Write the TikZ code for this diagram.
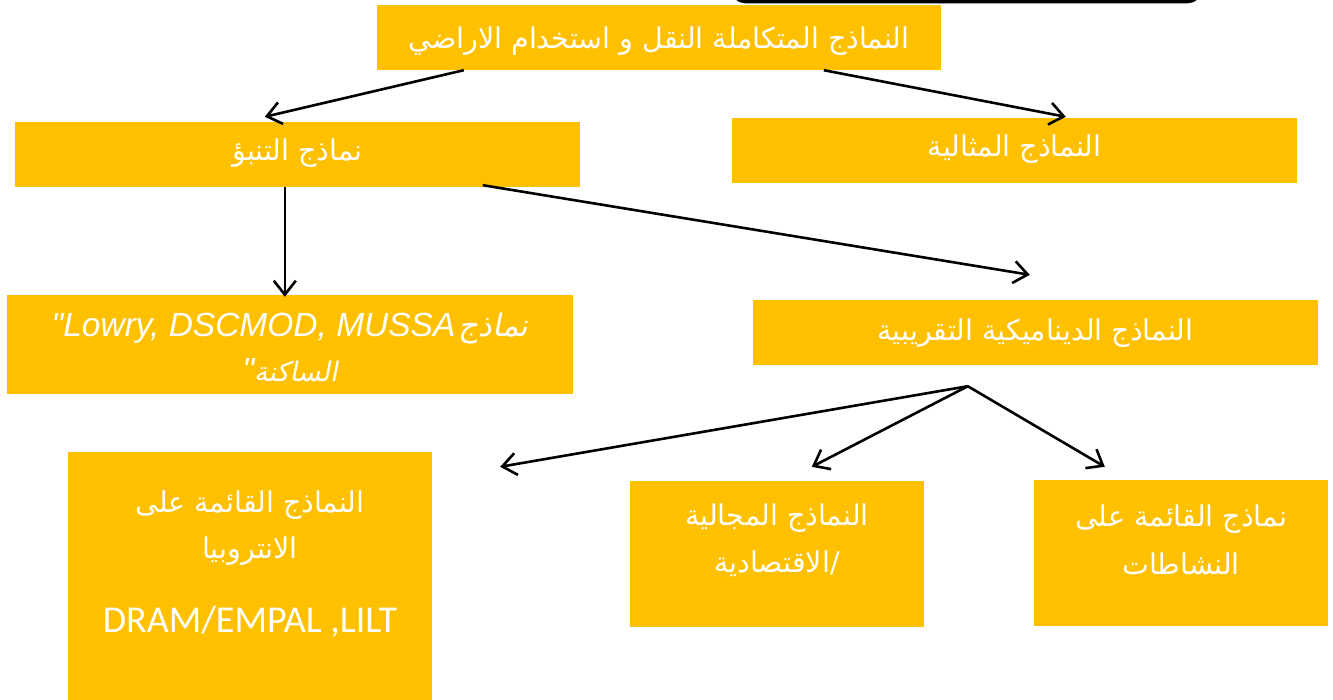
\documentclass[tikz,border=0pt]{standalone}
\usepackage{fontspec}
\usetikzlibrary{arrows.meta,calc}
\TeXXeTstate=1
\newfontfamily\arabicfont[Script=Arabic]{DejaVu Sans}
\newfontfamily\arabicit[Script=Arabic,FakeSlant=0.2]{DejaVu Sans}
\newfontfamily\latinit{Liberation Sans}
\newfontfamily\calfont{Carlito}
\definecolor{gold}{HTML}{FFC000}
\tikzset{
  box/.style={fill=gold, draw=none, inner sep=0pt, text=white, align=center},
  txt/.style={text=white, inner sep=0pt, align=center},
  ar/.style={text=white, inner sep=0pt, align=center, font=\arabicfont\fontsize{28.5}{28.5}\selectfont},
  arr/.style={line width=2.6pt, -{Straight Barb[length=14pt,width=22pt,line width=2.6pt]}}
}
\begin{document}
\begin{tikzpicture}[x=1pt,y=-1pt]
\useasboundingbox (0,0) rectangle (1333,699);
\begin{scope}
\clip (0,0) rectangle (1333,699);
\draw[line width=3.5pt, rounded corners=12pt] (733,-40) rectangle (1200,1.5);
\node[box, minimum width=564pt, minimum height=65pt] (top) at (659,37.5) {};
\node[box, minimum width=565pt, minimum height=65pt] (pred) at (297.5,154.5) {};
\node[box, minimum width=565pt, minimum height=65pt] (ideal) at (1014.5,150.5) {};
\node[box, minimum width=566pt, minimum height=99pt] (static) at (290,344.5) {};
\node[box, minimum width=565pt, minimum height=65pt] (dyn) at (1035.5,332.5) {};
\node[box, minimum width=364pt, minimum height=252pt] (entropy) at (250,578) {};
\node[box, minimum width=294pt, minimum height=146pt] (spatial) at (777,554) {};
\node[box, minimum width=294pt, minimum height=146pt] (activity) at (1181,553) {};
\end{scope}
% texts
\node[ar] (ttop) at ($(top.center)+(0,4)$) {\beginR النماذج المتكاملة النقل و  استخدام الاراضي\endR};
\node[ar] (tpred) at ($(pred.center)+(0,-1)$) {\beginR نماذج التنبؤ\endR};
\node[ar] (tideal) at ($(ideal.center)+(0,-1)$) {\beginR النماذج المثالية\endR};
\node[ar] (tdyn) at ($(dyn.center)+(0,1)$) {\beginR النماذج الديناميكية التقريبية\endR};
\node[txt] (tstatic1) at ($(static.center)+(0,-16)$) {\beginR{\arabicit\fontsize{31}{31}\selectfont نماذج} \beginL{\latinit\itshape\fontsize{33.5}{33.5}\selectfont"Lowry, DSCMOD, MUSSA}\endL\endR};
\node[txt] (tstatic2) at ($(static.center)+(0,26)$) {\beginR{\arabicit\fontsize{27}{27}\selectfont الساكنة}\beginL{\latinit\itshape\fontsize{33.5}{33.5}\selectfont"}\endL\endR};
\node[ar] (tent1) at ($(entropy.north)+(0,53)$) {\beginR النماذج القائمة على\endR};
\node[ar] (tent2) at ($(entropy.north)+(0,99)$) {\beginR الانتروبيا\endR};
\node[txt, font=\calfont\fontsize{38}{38}\selectfont] (tent3) at ($(entropy.north)+(0,170)$) {DRAM/EMPAL ,LILT};
\node[ar] (tsp1) at ($(spatial.north)+(0,37)$) {\beginR النماذج المجالية\endR};
\node[ar] (tsp2) at ($(spatial.north)+(0,83)$) {\beginR \beginL/\endL الاقتصادية\endR};
\node[ar] (tac1) at ($(activity.north)+(0,39)$) {\beginR نماذج القائمة على\endR};
\node[ar] (tac2) at ($(activity.north)+(0,84)$) {\beginR النشاطات\endR};
% connectors
\draw[arr] ($(top.south west)+(87,0)$) -- ($(pred.north west)+(250,-5)$);
\draw[arr] ($(top.south west)+(447,0)$) -- ($(ideal.north west)+(334,-1)$);
\draw[arr] ($(pred.south west)+(270,0)$) -- ($(static.north west)+(278,2)$);
\draw[arr] ($(pred.south west)+(468,-2)$) -- ($(dyn.north west)+(277,-25)$);
\coordinate (hub) at ($(dyn.south west)+(215,21)$);
\draw[arr] (hub) -- ($(entropy.north east)+(68,15)$);
\draw[arr] (hub) -- ($(spatial.north west)+(182,-14)$);
\draw[arr] (hub) -- ($(activity.north west)+(71,-13)$);
\end{tikzpicture}
\end{document}
